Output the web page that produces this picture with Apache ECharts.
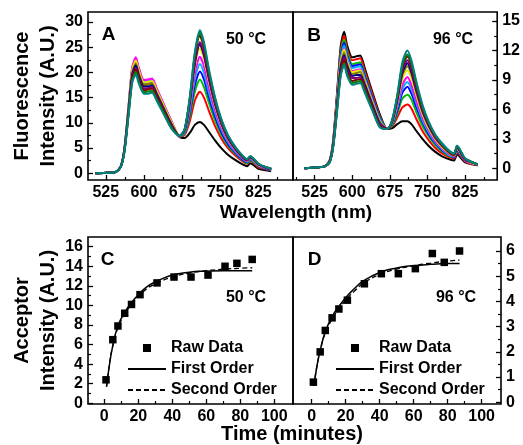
<!DOCTYPE html>
<html><head><meta charset="utf-8">
<script src="https://cdn.jsdelivr.net/npm/echarts@6/dist/echarts.min.js"></script>
<style>html,body{margin:0;padding:0;background:#fff}#c{width:523px;height:445px}</style>
</head><body><div id="c"></div>
<script>
// ---------- data ----------
const wavelengths = [505,530,545,555,562,570,577,584,590,600,608,616,625,640,655,670,680,690,700,710,718,728,740,752,765,780,795,803,809,825,840,850];
const spectrumColors = ['#000000','#FF0000','#00C000','#0000FF','#00B0FF','#FF00FF','#E8E800','#808000','#000080','#800080','#800000','#008000','#008080'];

const spectraA = [
[0,0.1,0.3,1.5,5.0,13.0,20.0,21.8,19.8,17.5,17.6,17.8,16.0,12.8,9.7, 7.2,7.0,8.0,9.6,10.2,9.6,8.2,6.5,5.0,3.7,2.6,1.7,1.4,2.0,0.9,0.6,0.4],
[0,0.1,0.3,1.5,5.1,13.3,20.4,22.2,20.2,17.9,18.0,18.2,16.3,13.1,9.9, 7.3,7.6,10.3,14.4,16.2,15.0,12.3,9.3,6.9,5.0,3.5,2.3,1.9,2.5,1.2,0.8,0.6],
[0,0.1,0.3,1.5,5.2,13.4,20.6,22.5,20.4,18.0,18.1,18.3,16.5,13.2,10.0, 7.3,7.8,11.2,16.2,18.6,17.1,13.9,10.4,7.7,5.5,3.8,2.5,2.0,2.6,1.4,0.9,0.6],
[0,0.1,0.3,1.5,5.1,13.4,20.5,22.4,20.4,18.0,18.1,18.3,16.5,13.2,10.0, 7.3,8.0,11.9,17.5,20.2,18.6,15.0,11.2,8.2,5.8,4.0,2.6,2.2,2.8,1.5,0.9,0.7],
[0,0.1,0.3,1.6,5.2,13.5,20.8,22.7,20.6,18.2,18.3,18.5,16.6,13.3,10.1, 7.3,8.1,12.4,18.7,21.7,19.9,15.9,11.9,8.7,6.2,4.2,2.8,2.3,2.9,1.5,1.0,0.7],
[0,0.1,0.3,1.6,5.3,13.7,21.1,23.0,20.9,18.5,18.6,18.8,16.9,13.5,10.2, 7.3,8.3,13.0,19.8,23.1,21.2,16.9,12.5,9.1,6.5,4.4,2.9,2.4,3.0,1.6,1.0,0.8],
[0,0.1,0.3,1.5,5.1,13.4,20.6,22.4,20.4,18.0,18.1,18.3,16.5,13.2,10.0, 7.4,8.4,13.6,21.1,24.8,22.7,18.0,13.3,9.6,6.8,4.7,3.1,2.5,3.1,1.7,1.1,0.8],
[0,0.1,0.3,1.5,5.0,13.0,20.0,21.8,19.8,17.5,17.6,17.8,16.0,12.8,9.7, 7.4,8.5,14.0,21.8,25.7,23.5,18.7,13.7,9.9,7.0,4.8,3.1,2.6,3.2,1.8,1.1,0.8],
[0,0.1,0.3,1.5,4.9,12.7,19.6,21.4,19.4,17.2,17.2,17.4,15.7,12.5,9.5, 7.4,8.5,13.9,21.7,25.6,23.4,18.6,13.7,9.9,7.0,4.8,3.1,2.6,3.2,1.8,1.1,0.8],
[0,0.1,0.3,1.4,4.8,12.5,19.2,20.9,19.0,16.8,16.9,17.1,15.4,12.3,9.3, 7.4,8.6,14.1,22.1,26.0,23.9,18.9,13.9,10.0,7.1,4.9,3.2,2.6,3.2,1.8,1.1,0.8],
[0,0.1,0.3,1.4,4.7,12.3,18.9,20.6,18.7,16.5,16.6,16.8,15.1,12.1,9.2, 7.4,8.7,14.6,23.1,27.3,25.0,19.8,14.5,10.5,7.4,5.0,3.3,2.7,3.3,1.8,1.2,0.9],
[0,0.1,0.3,1.4,4.6,12.0,18.4,20.1,18.2,16.1,16.2,16.4,14.7,11.8,8.9, 7.4,8.7,14.8,23.6,27.9,25.5,20.1,14.7,10.6,7.5,5.1,3.3,2.8,3.4,1.9,1.2,0.9],
[0,0.1,0.3,1.4,4.5,11.7,18.0,19.6,17.8,15.8,15.8,16.0,14.4,11.5,8.7, 7.4,8.8,15.0,24.0,28.4,26.0,20.5,15.0,10.8,7.6,5.2,3.4,2.8,3.4,1.9,1.2,0.9]
];

const spectraB = [
[0,0.1,0.2,0.8,2.8,7.8,12.4,13.9,12.5,11.3,11.4,11.5,10.2,7.8,5.5, 4.0,4.1,4.5,4.8,4.8,4.5,3.8,3.0,2.3,1.7,1.2,0.9,0.8,1.4,0.6,0.4,0.3],
[0,0.1,0.2,0.8,2.7,7.6,12.0,13.5,12.1,11.0,11.1,11.2,9.9,7.6,5.3, 4.0,4.3,5.2,6.2,6.5,6.1,5.0,3.8,2.9,2.1,1.5,1.1,1.0,1.6,0.7,0.4,0.3],
[0,0.1,0.2,0.8,2.6,7.3,11.7,13.1,11.8,10.6,10.7,10.8,9.6,7.3,5.2, 4.0,4.4,5.6,7.1,7.5,7.0,5.7,4.3,3.3,2.4,1.7,1.2,1.1,1.7,0.8,0.5,0.3],
[0,0.1,0.2,0.7,2.6,7.2,11.4,12.8,11.5,10.4,10.5,10.6,9.4,7.2,5.1, 4.0,4.5,5.9,7.7,8.3,7.6,6.2,4.7,3.5,2.6,1.8,1.3,1.1,1.8,0.8,0.5,0.3],
[0,0.1,0.2,0.7,2.5,7.0,11.2,12.5,11.3,10.2,10.3,10.4,9.2,7.0,5.0, 4.0,4.6,6.2,8.1,8.8,8.1,6.6,4.9,3.7,2.7,1.9,1.3,1.2,1.9,0.8,0.5,0.4],
[0,0.1,0.2,0.7,2.5,6.9,10.9,12.2,11.0,9.9,10.0,10.1,9.0,6.9,4.8, 4.0,4.7,6.4,8.5,9.3,8.5,6.9,5.2,3.9,2.8,2.0,1.4,1.2,2.0,0.8,0.5,0.4],
[0,0.1,0.2,0.7,2.4,6.8,10.8,12.1,10.9,9.8,9.9,10.0,8.9,6.8,4.8, 4.0,4.7,6.7,9.1,10.0,9.2,7.4,5.5,4.1,3.0,2.1,1.5,1.3,2.0,0.9,0.5,0.4],
[0,0.1,0.2,0.7,2.4,6.6,10.5,11.8,10.6,9.6,9.7,9.8,8.7,6.6,4.7, 4.0,4.8,6.8,9.5,10.4,9.6,7.7,5.7,4.3,3.1,2.2,1.5,1.3,2.1,0.9,0.6,0.4],
[0,0.1,0.2,0.7,2.3,6.5,10.3,11.5,10.4,9.4,9.5,9.5,8.5,6.5,4.6, 4.0,4.8,7.0,9.7,10.7,9.8,7.9,5.9,4.4,3.2,2.3,1.6,1.4,2.1,0.9,0.6,0.4],
[0,0.1,0.2,0.6,2.3,6.3,10.0,11.3,10.1,9.2,9.2,9.3,8.3,6.3,4.5, 4.0,4.9,7.1,10.0,11.0,10.1,8.1,6.0,4.5,3.2,2.3,1.6,1.4,2.2,0.9,0.6,0.4],
[0,0.1,0.2,0.6,2.2,6.2,9.8,11.0,9.9,8.9,9.0,9.1,8.1,6.2,4.3, 4.0,4.9,7.3,10.3,11.4,10.5,8.4,6.2,4.6,3.4,2.4,1.6,1.4,2.2,1.0,0.6,0.4],
[0,0.1,0.2,0.6,2.2,6.0,9.5,10.7,9.6,8.7,8.8,8.9,7.9,6.0,4.2, 4.0,5.0,7.4,10.5,11.6,10.7,8.6,6.3,4.7,3.4,2.4,1.7,1.5,2.3,1.0,0.6,0.4],
[0,0.1,0.2,0.6,2.1,5.9,9.4,10.5,9.4,8.5,8.6,8.7,7.7,5.9,4.2, 4.0,5.0,7.5,10.8,12.0,11.0,8.8,6.5,4.8,3.5,2.5,1.7,1.5,2.3,1.0,0.6,0.4]
];

const times = [1,5,8,12,16,21,31,41,51,61,71,78,87];
const rawC = [2.4,6.5,7.9,9.2,10.1,11.1,12.3,12.9,12.9,13.1,14.0,14.3,14.7];
const rawD = [0.8,2.0,2.85,3.35,3.7,4.05,4.7,5.1,5.1,5.3,5.9,5.55,6.0];

const fitTimes = [1.3,3,5,8,12,16,20,25,30,40,50,60,70,80,87];
const firstC  = [1.7,3.9,5.9,7.9,9.3,10.3,11.1,11.9,12.4,13.1,13.4,13.5,13.55,13.55,13.55];
const secondC = [1.7,4.0,5.9,7.7,9.1,10.1,10.9,11.7,12.2,12.9,13.3,13.55,13.7,13.8,13.85];
const firstD  = [0.65,1.4,2.05,2.8,3.4,3.8,4.15,4.5,4.8,5.15,5.33,5.42,5.47,5.5,5.5];
const secondD = [0.65,1.4,2.05,2.75,3.3,3.7,4.05,4.4,4.7,5.07,5.28,5.42,5.52,5.6,5.64];

const wlTicks = [525,600,675,750,825];
const wlMinor = [487.5,562.5,637.5,712.5,787.5,862.5];
const aTicks = [0,5,10,15,20,25,30];
const aMinor = [2.5,7.5,12.5,17.5,22.5,27.5];
const bTicks = [0,3,6,9,12,15];
const bMinor = [1.5,4.5,7.5,10.5,13.5];
const timeTicks = [0,20,40,60,80,100];
const timeMinor = [10,30,50,70,90];
const cTicks = [0,2,4,6,8,10,12,14,16];
const cMinor = [1,3,5,7,9,11,13,15];
const dTicks = [0,1,2,3,4,5,6];
const dMinor = [0.5,1.5,2.5,3.5,4.5,5.5];

// ---------- chart ----------
const FONT = '"Liberation Sans", Arial, sans-serif';
const chart = echarts.init(document.getElementById('c'), null, {renderer:'canvas'});

function mainAxis(grid, min, max, ticks, pos, extra) {
  const inRange = ticks.filter(v => v >= min && v <= max);
  return Object.assign({
    type:'value', gridIndex:grid, min:min, max:max, position:pos,
    axisLine:{show:false, onZero:false},
    axisTick:{show:true, inside:true, length:5, customValues:inRange, lineStyle:{color:'#000', width:1.3}},
    axisLabel:{show:true, customValues:inRange, margin:5, color:'#000', fontSize:16, fontWeight:'bold', fontFamily:FONT},
    splitLine:{show:false}
  }, extra || {});
}
function minorAxis(grid, min, max, ticks, pos) {
  const inRange = ticks.filter(v => v > min && v < max);
  return {
    type:'value', gridIndex:grid, min:min, max:max, position:pos,
    axisLine:{show:false, onZero:false},
    axisTick:{show:true, inside:true, length:3, customValues:inRange, lineStyle:{color:'#000', width:1.2}},
    axisLabel:{show:false}, splitLine:{show:false}
  };
}

const grids = [
  {left:88, top:12, width:205, height:168},
  {left:293, top:12, width:208, height:168},
  {left:88, top:237, width:205, height:167},
  {left:293, top:237, width:208, height:167}
].map(g => Object.assign(g, {show:true, borderColor:'#000', borderWidth:1.6, backgroundColor:'transparent', containLabel:false}));

const nameStyle = {fontSize:20, fontWeight:'bold', color:'#000', fontFamily:FONT, lineHeight:26};

const xAxes = [
  mainAxis(0, 490, 893, wlTicks, 'bottom'), minorAxis(0, 490, 893, wlMinor, 'bottom'),
  mainAxis(1, 482, 889, wlTicks, 'bottom'), minorAxis(1, 482, 889, wlMinor, 'bottom'),
  mainAxis(2, -9.6, 111, timeTicks, 'bottom'), minorAxis(2, -9.6, 111, timeMinor, 'bottom'),
  mainAxis(3, -11, 111.4, timeTicks, 'bottom'), minorAxis(3, -11, 111.4, timeMinor, 'bottom')
];
const yAxes = [
  mainAxis(0, -1.33, 32.0, aTicks, 'left', {name:'Fluorescence\nIntensity (A.U.)', nameLocation:'middle', nameGap:26, nameTextStyle:nameStyle}),
  minorAxis(0, -1.33, 32.0, aMinor, 'left'),
  mainAxis(1, -1.19, 15.92, bTicks, 'right'), minorAxis(1, -1.19, 15.92, bMinor, 'right'),
  mainAxis(2, -0.07, 16.99, cTicks, 'left', {name:'Acceptor\nIntensity (A.U.)', nameLocation:'middle', nameGap:24, nameTextStyle:nameStyle}),
  minorAxis(2, -0.07, 16.99, cMinor, 'left'),
  mainAxis(3, -0.067, 6.555, dTicks, 'right'), minorAxis(3, -0.067, 6.555, dMinor, 'right')
];

const series = [];
spectraA.forEach((s, i) => series.push({
  type:'line', xAxisIndex:0, yAxisIndex:0, data: wavelengths.map((w, j) => [w, s[j]]),
  symbol:'none', smooth:0.25, color:spectrumColors[i], lineStyle:{width:2, color:spectrumColors[i]}, silent:true
}));
spectraB.forEach((s, i) => series.push({
  type:'line', xAxisIndex:2, yAxisIndex:2, data: wavelengths.map((w, j) => [w, s[j]]),
  symbol:'none', smooth:0.25, color:spectrumColors[i], lineStyle:{width:2, color:spectrumColors[i]}, silent:true
}));
function kinetic(xi, yi, raw, first, second) {
  series.push({name:'Raw Data', type:'scatter', xAxisIndex:xi, yAxisIndex:yi, symbol:'rect', symbolSize:7.5,
    itemStyle:{color:'#000', opacity:1}, data: times.map((t, i) => [t, raw[i]]), z:3});
  series.push({name:'First Order', type:'line', xAxisIndex:xi, yAxisIndex:yi, symbol:'none', smooth:true,
    itemStyle:{color:'#000'}, lineStyle:{color:'#000', width:1.5}, data: fitTimes.map((t, i) => [t, first[i]])});
  series.push({name:'Second Order', type:'line', xAxisIndex:xi, yAxisIndex:yi, symbol:'none', smooth:true,
    itemStyle:{color:'#000'}, lineStyle:{color:'#000', width:1.3, type:[5,3]}, data: fitTimes.map((t, i) => [t, second[i]])});
}
kinetic(4, 4, rawC, firstC, secondC);
kinetic(6, 6, rawD, firstD, secondD);

function legendAt(left) {
  return {show:true, orient:'vertical', left:left, top:339, padding:0, itemWidth:38, itemHeight:8, itemGap:3,
    selectedMode:false, symbolKeepAspect:true,
    data:[
      {name:'Raw Data', icon:'path://M0,0L10,0L10,10L0,10Z', itemStyle:{color:'#000', opacity:1}},
      {name:'First Order', itemStyle:{opacity:0}},
      {name:'Second Order', itemStyle:{opacity:0}}
    ],
    textStyle:{fontSize:16, fontWeight:'bold', color:'#000', fontFamily:FONT, lineHeight:18}};
}

function txt(x, y, text, size) {
  return {type:'text', x:x, y:y, silent:true,
    style:{text:text, fill:'#000', font:'bold ' + size + 'px ' + FONT, textAlign:'center', textVerticalAlign:'middle'}};
}

chart.setOption({
  animation:false,
  backgroundColor:'#fff',
  grid: grids,
  xAxis: xAxes,
  yAxis: yAxes,
  series: series,
  legend: [legendAt(127), legendAt(335)],
  graphic: [
    txt(108.5, 35, 'A', 19), txt(314, 36, 'B', 19), txt(107.5, 260, 'C', 19), txt(314.5, 260, 'D', 19),
    txt(246, 40, '50 °C', 16), txt(453, 40, '96 °C', 16), txt(246, 298, '50 °C', 16), txt(456, 298, '96 °C', 16),
    txt(296, 213, 'Wavelength (nm)', 19), txt(292, 434, 'Time (minutes)', 20)
  ]
});
</script></body></html>
